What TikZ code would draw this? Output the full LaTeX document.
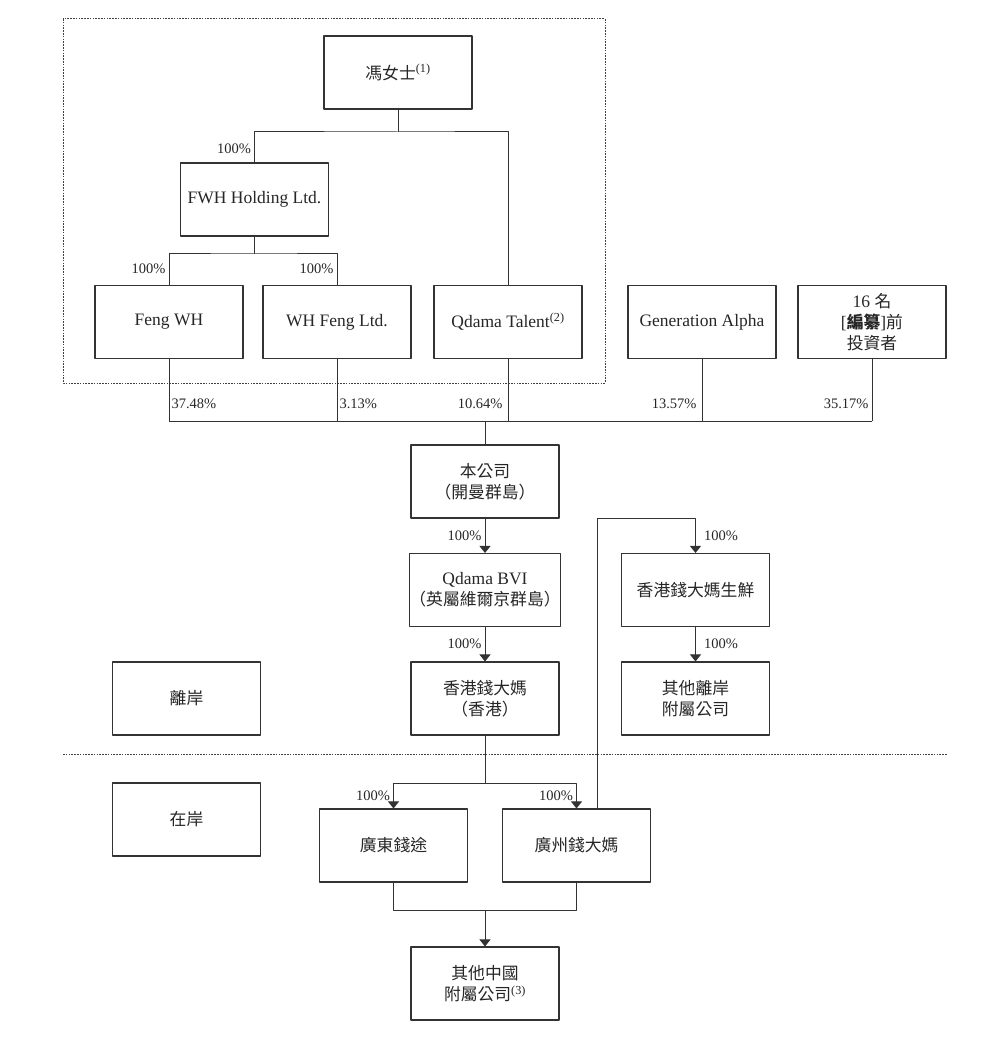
\documentclass[tikz,border=0pt]{standalone}
\usepackage{fontspec}
\setmainfont{Liberation Serif}
\newfontfamily\cjk[Scale=0.96]{Noto Sans CJK TC}
\usetikzlibrary{arrows.meta}
\newcommand{\zh}[1]{{\cjk #1}}
\begin{document}
\begin{tikzpicture}[x=1pt,y=-1pt,>={Triangle[width=11pt,length=7pt]},line join=round,
  line width=1pt,draw=black!80,
  box/.style={draw=black!80,line width=1.1pt,minimum width=148pt,minimum height=73pt,inner sep=0pt,
    align=center,text=black!85,font=\fontsize{17.5}{21}\selectfont},
  pct/.style={text=black!85,font=\fontsize{14.5}{16}\selectfont,inner sep=3pt},
  dotline/.style={draw=black!75,line width=1pt,dash pattern=on 1.6pt off 1.2pt}]
 	\useasboundingbox (0,0) rectangle (982,1040);
 	% group of Ms Feng
 	\draw[dotline] (63,19) rectangle (605,383);
 	\node[box] (ms) at (398,72.5) {\zh{馮女士}\textsuperscript{(1)}};
 	\node[box] (fwh) at (254.5,199.5) {FWH Holding Ltd.};
 	\node[box] (fengwh) at (169,322) {Feng WH};
 	\node[box] (whfeng) at (337,322) {WH Feng Ltd.};
 	\node[box] (qtalent) at (508,322) {Qdama Talent\textsuperscript{(2)}};
 	\node[box] (genalpha) at (702,322) {Generation Alpha};
 	\node[box] (pre16) at (872,322) {16 \zh{名}\\{[}\zh{\bfseries 編纂}{]}\zh{前}\\\zh{投資者}};
 	\coordinate (j1) at (398,132);
 	\coordinate (j2) at (254.5,254);
 	\coordinate (bus) at (485,421);
 	\draw (ms.south) -- (j1);
 	\draw (fwh.north) |- (j1) -| (qtalent.north);
 	\node[pct,left] at (fwh.north |- 0,149) {100\%};
 	\draw (fwh.south) -- (j2);
 	\draw (fengwh.north) |- (j2) -| (whfeng.north);
 	\node[pct,left] at (fengwh.north |- 0,269) {100\%};
 	\node[pct,left] at (whfeng.north |- 0,269) {100\%};
 	% shareholding
 	\draw (fengwh.south) -- (fengwh |- bus) node[pct,pos=0.73,right,inner sep=2pt]{37.48\%};
 	\draw (whfeng.south) -- (whfeng |- bus) node[pct,pos=0.73,right,inner sep=2pt]{3.13\%};
 	\draw (qtalent.south) -- (qtalent |- bus) node[pct,pos=0.73,left,inner sep=5pt]{10.64\%};
 	\draw (genalpha.south) -- (genalpha |- bus) node[pct,pos=0.73,left,inner sep=5pt]{13.57\%};
 	\draw (pre16.south) -- (pre16 |- bus) node[pct,pos=0.73,left]{35.17\%};
 	\draw (fengwh |- bus) -- (pre16 |- bus);
 	\node[box] (company) at (485,481.5) {\zh{本公司}\\\zh{（開曼群島）}};
 	\draw (bus) -- (company.north);
 	\node[box] (bvi) at (485,590) {Qdama BVI\\\zh{（英屬維爾京群島）}};
 	\node[box] (hkqdm) at (485,698.5) {\zh{香港錢大媽}\\\zh{（香港）}};
 	\node[box] (fresh) at (695.5,590) {\zh{香港錢大媽生鮮}};
 	\node[box] (othoff) at (695.5,698.5) {\zh{其他離岸}\\\zh{附屬公司}};
 	\node[box] (offshore) at (186.5,698.5) {\zh{離岸}};
 	\node[box] (onshore) at (186.5,819.5) {\zh{在岸}};
 	\draw[->] (company) -- (bvi) node[pct,midway,left]{100\%};
 	\draw[->] (bvi) -- (hkqdm) node[pct,midway,left]{100\%};
 	\draw[->] (fresh) -- (othoff) node[pct,midway,right,inner sep=8pt]{100\%};
 	% offshore / onshore
 	\draw[dotline] (63,754) -- (947,754);
 	\node[box] (gdqt) at (393.5,845.5) {\zh{廣東錢途}};
 	\node[box] (gzqdm) at (576.5,845.5) {\zh{廣州錢大媽}};
 	\node[box] (othcn) at (485,983.5) {\zh{其他中國}\\\zh{附屬公司}\textsuperscript{(3)}};
 	\coordinate (turn) at (597,518);
 	\coordinate (j3) at (485,783);
 	\coordinate (j4) at (485,910);
 	\draw[->] ([xshift=20.5pt]gzqdm.north) -- (turn) -| (fresh.north) node[pct,pos=0.75,right,inner sep=8pt]{100\%};
 	\draw (hkqdm.south) -- (j3);
 	\draw[->] (j3) -| (gdqt.north) node[pct,pos=0.75,left]{100\%};
 	\draw[->] (j3) -| (gzqdm.north) node[pct,pos=0.75,left]{100\%};
 	\draw (gdqt.south) |- (j4) -| (gzqdm.south);
 	\draw[->] (j4) -- (othcn.north);
 \end{tikzpicture}
\end{document}
